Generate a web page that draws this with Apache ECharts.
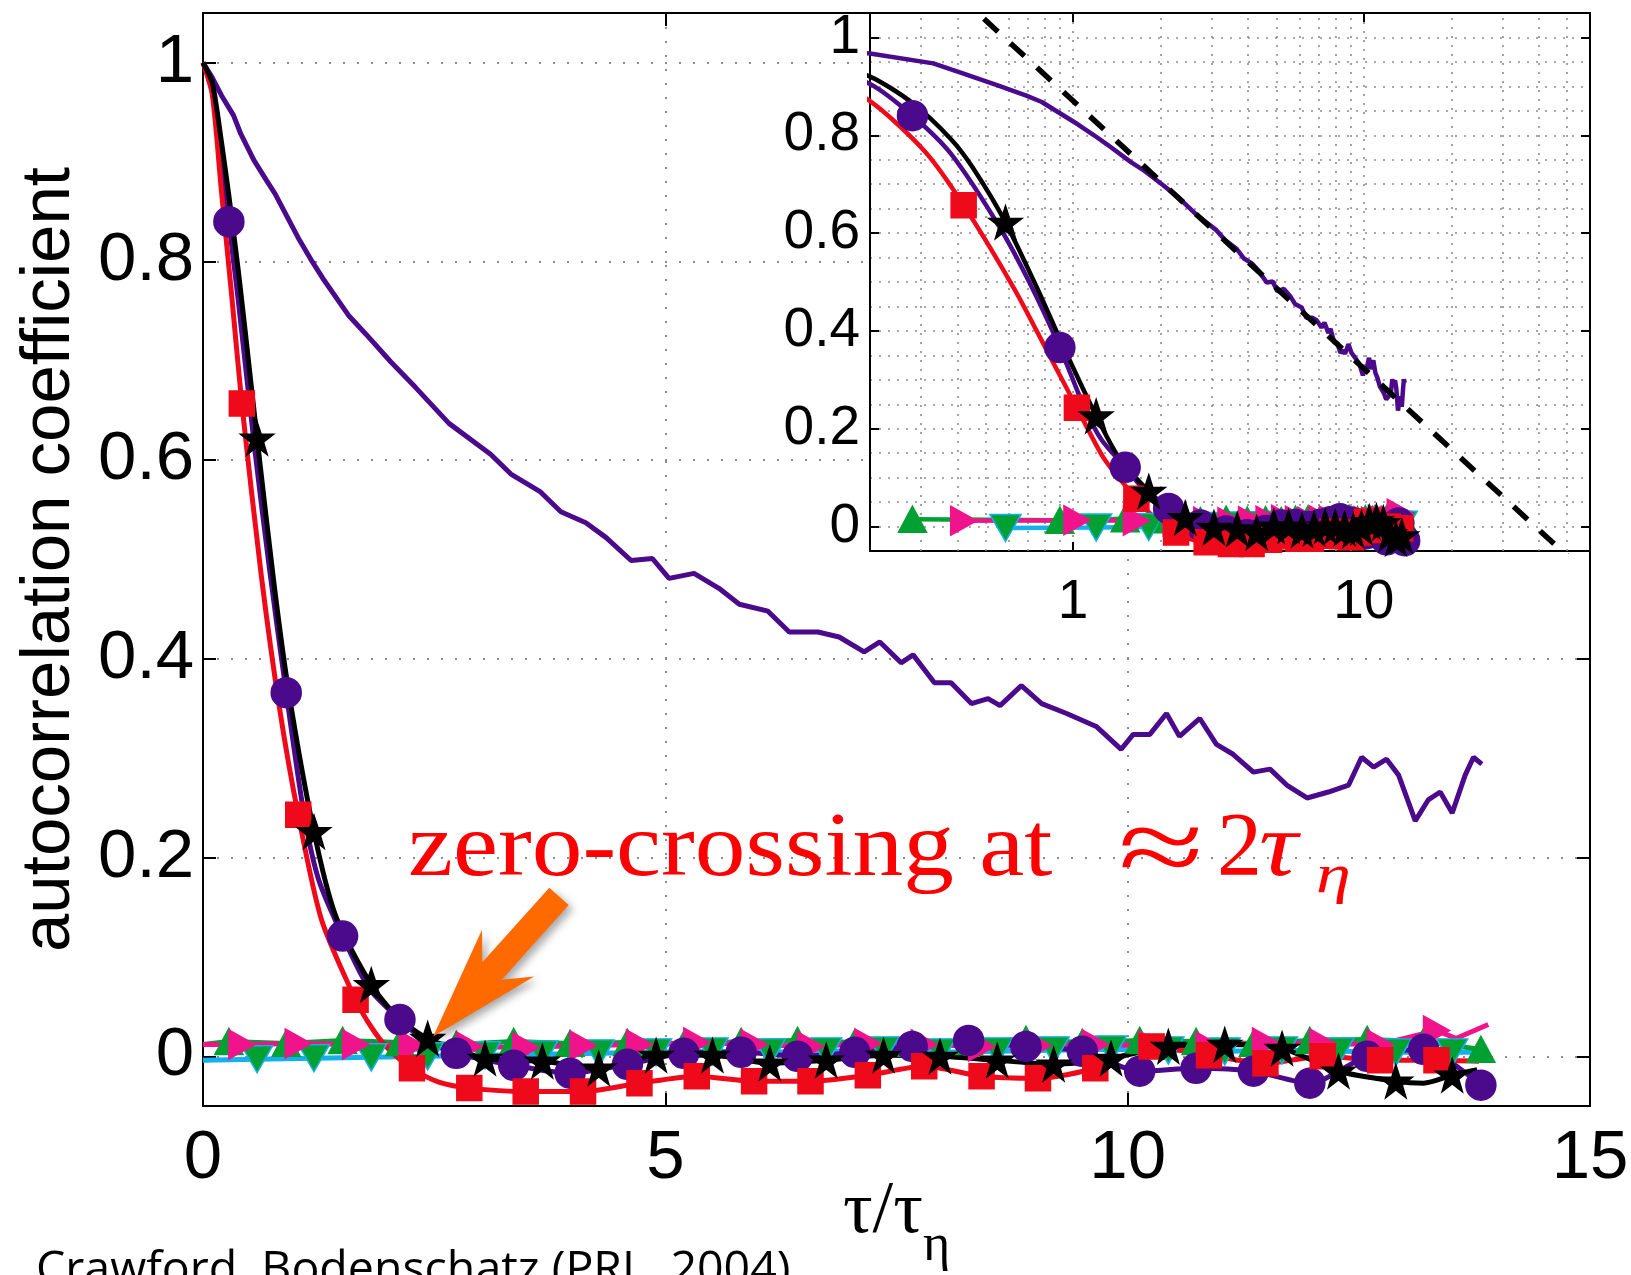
<!DOCTYPE html>
<html><head><meta charset="utf-8">
<script src="https://cdn.jsdelivr.net/npm/echarts@6/dist/echarts.min.js"></script>
<style>html,body{margin:0;padding:0;background:#fff}#c{width:1631px;height:1275px}</style>
</head><body><div id="c"></div>
<script>
// ---------------- data ----------------
// purple curve without markers
const slowTau = [0,0.1,0.2,0.33,0.41,0.55,0.69,0.78,1.04,1.18,1.31,1.58,1.76,2.03,2.30,2.66,3.11,3.33,3.65,3.87,4.14,4.36,4.63,4.86,5.04,5.31,5.58,5.80,6.11,6.34,6.65,6.88,7.15,7.32,7.55,7.68,7.91,8.09,8.31,8.49,8.62,8.85,9.07,9.34,9.66,9.93,10.06,10.24,10.42,10.56,10.78,10.96,11.14,11.36,11.54,11.72,11.94,12.17,12.39,12.53,12.66,12.80,12.93,13.11,13.25,13.38,13.51,13.65,13.74,13.83];
const slowVal = [1,0.985,0.967,0.947,0.928,0.902,0.881,0.868,0.822,0.800,0.781,0.745,0.727,0.699,0.673,0.637,0.606,0.586,0.568,0.548,0.537,0.522,0.499,0.501,0.481,0.486,0.471,0.455,0.448,0.427,0.427,0.422,0.407,0.417,0.396,0.404,0.376,0.376,0.355,0.360,0.353,0.373,0.355,0.345,0.332,0.309,0.324,0.324,0.345,0.322,0.340,0.314,0.304,0.286,0.289,0.273,0.260,0.266,0.273,0.301,0.291,0.299,0.283,0.237,0.258,0.266,0.245,0.283,0.301,0.294];

// marker positions (tau / tau_eta)
const markTauA = [0.28,0.90,1.51,2.13,2.74,3.36,3.97,4.59,5.20,5.82,6.43,7.05,7.67,8.28,8.90,9.51,10.13,10.74,11.36,11.97,12.59,13.20,13.82];
const markTauB = [0.42,1.03,1.65,2.26,2.88,3.49,4.11,4.72,5.34,5.96,6.57,7.19,7.80,8.42,9.03,9.65,10.26,10.88,11.49,12.11,12.73,13.34];
const markTauC = [0.585,1.20,1.82,2.43,3.05,3.67,4.28,4.90,5.51,6.13,6.74,7.36,7.97,8.59,9.20,9.82,10.44,11.05,11.67,12.28,12.90,13.51];

// purple with circles
const circVal = [0.840,0.366,0.121,0.037,0.003,-0.009,-0.017,-0.008,0.003,0.004,0.000,0.004,0.010,0.016,0.010,0.005,-0.015,-0.012,-0.015,-0.027,0.000,0.007,-0.029];
const circLineTau = [0,0.1,0.2,0.38,0.56,0.72,1.09,1.25,1.8,2.4];
const circLineVal = [1,0.975,0.905,0.762,0.611,0.490,0.245,0.178,0.068,0.016];

// red with squares
const sqVal = [0.657,0.243,0.057,-0.012,-0.032,-0.0355,-0.0355,-0.027,-0.020,-0.025,-0.025,-0.019,-0.010,-0.020,-0.022,-0.012,0.010,0.001,-0.007,0.000,-0.004,-0.004];
const redLineTau = [0,0.1,0.2,0.31,0.63,0.83,1.28,1.83,2.0,2.55,13.8];
const redLineVal = [1,0.968,0.870,0.766,0.484,0.349,0.138,0.028,0.008,-0.026,-0.005];

// black with stars
const starVal = [0.622,0.226,0.072,0.018,-0.002,-0.005,-0.012,0.001,0.001,-0.007,-0.004,0.001,0.000,-0.004,-0.008,-0.002,0.010,0.012,0.008,-0.015,-0.025,-0.019];
const blackLineTau = [0,0.1,0.2,0.28,0.38,0.45,0.77,0.93,1.44,2.1,13.2,13.78];
const blackLineVal = [1,0.98,0.920,0.866,0.792,0.735,0.474,0.365,0.140,0.040,-0.027,-0.0135];

// near-zero curves
const pinkVal = [0.012,0.013,0.012,0.011,0.010,0.009,0.011,0.012,0.014,0.012,0.010,0.013,0.012,0.010,0.011,0.012,0.011,0.010,0.014,0.013,0.012,0.026];
const pinkLineTau = [0,13.55,13.9];
const pinkLineVal = [0.012,0.018,0.032];
const gUpVal = [0.015,0.013,0.016,0.014,0.012,0.015,0.013,0.014,0.012,0.015,0.016,0.014,0.013,0.015,0.017,0.014,0.016,0.015,0.013,0.016,0.017,0.015,0.007];
const gUpLineTau = [0];
const gUpLineVal = [0.012];
const gDnVal = [-0.003,-0.002,-0.001,0.000,0.001,0.002,0.003,0.004,0.005,0.004,0.005,0.006,0.004,0.005,0.006,0.007,0.006,0.005,0.006,0.005,0.004,0.004];
const cyanLineTau = [0,13.9];
const cyanLineVal = [-0.004,0.004];

// dashed reference line of the inset
const dashTau = [0.4, 60];
const dashVal = [1.088, -0.103];

// inset minor grid positions
const insetMinorTau = [0.3,0.4,0.5,0.6,0.7,0.8,0.9,2,3,4,5,6,7,8,9,20,30,40,50];

// arrow (tail -> tip) in data units of the main plot
const arrowFrom = [3.85, 0.161];
const arrowTo = [2.49, 0.020];

// tick labels
const mainXTicks = [0, 5, 10, 15];
const insetXLabels = [1, 10];

// ---------------- chart ----------------
const PURPLE = '#4b0a8c', RED = '#ee0a1a', BLACK = '#000000', PINK = '#f0148c',
      GREEN = '#00a032', CYAN = '#14b0ec', ORANGE = '#ff6a00';
const STAR = 'path://M50,0 L61.8,34.5 L97.6,34.5 L68.6,55.9 L79.4,90.5 L50,69.1 L20.6,90.5 L31.4,55.9 L2.4,34.5 L38.2,34.5 Z';
const TRI_R = 'path://M0,0 L87,50 L0,100 Z';
const TRI_D = 'path://M0,0 L100,0 L50,87 Z';
const TRI_U = 'path://M50,0 L100,87 L0,87 Z';

function pts(t, v) { return t.map((x, i) => [x, v[i]]); }
function merged(t1, v1, t2, v2) { return pts(t1, v1).concat(pts(t2, v2)).sort((a, b) => a[0] - b[0]); }

const curves = [
  {line: merged(markTauC, gDnVal, cyanLineTau, cyanLineVal), color: CYAN, marks: pts(markTauC, gDnVal), symbol: TRI_D, symColor: GREEN, border: CYAN, size: [31, 27], smooth: false},
  {line: merged(markTauA, gUpVal, gUpLineTau, gUpLineVal), color: GREEN, marks: pts(markTauA, gUpVal), symbol: TRI_U, symColor: GREEN, border: GREEN, size: [28, 26], smooth: false},
  {line: merged(markTauB, pinkVal, pinkLineTau, pinkLineVal), color: PINK, marks: pts(markTauB, pinkVal), symbol: TRI_R, symColor: PINK, border: PINK, size: [26, 29], smooth: false},
  {line: pts(slowTau, slowVal), color: PURPLE, marks: null, smooth: false},
  {line: merged(markTauA, circVal, circLineTau, circLineVal), color: PURPLE, marks: pts(markTauA, circVal), symbol: 'circle', symColor: PURPLE, border: PURPLE, size: 30, smooth: 0.25},
  {line: merged(markTauB, sqVal, redLineTau, redLineVal), color: RED, marks: pts(markTauB, sqVal), symbol: 'rect', symColor: RED, border: RED, size: 25, smooth: 0.25},
  {line: merged(markTauC, starVal, blackLineTau, blackLineVal), color: BLACK, marks: pts(markTauC, starVal), symbol: STAR, symColor: BLACK, border: BLACK, size: 33, smooth: 0.25}
];

function panelSeries(xi, yi, inset) {
  const keep = inset ? (p => p[0] > 0) : (() => true);
  const z = inset ? 5 : 2;
  const out = [];
  curves.forEach(c => {
    out.push({
      type: 'line', xAxisIndex: xi, yAxisIndex: yi, data: c.line.filter(keep),
      showSymbol: false, symbol: 'none', smooth: c.smooth,
      lineStyle: {color: c.color, width: inset ? 4.5 : 5}, z: z, silent: true, clip: true
    });
    if (c.marks) {
      out.push({
        type: 'scatter', xAxisIndex: xi, yAxisIndex: yi, data: c.marks.filter(keep),
        symbol: c.symbol, symbolSize: c.size,
        itemStyle: {color: c.symColor, borderColor: c.border, borderWidth: 1.5, opacity: 1},
        z: z, silent: true, clip: true
      });
    }
  });
  return out;
}

const dotMain = {type: [2, 12], color: '#8c8c8c', width: 2};
const dotInset = {type: [2, 7], color: '#8c8c8c', width: 1.6};
const lineBlack = {color: '#000', width: 2};

const series = panelSeries(0, 0, false).concat(panelSeries(2, 2, true));

// inset dashed line
series.push({
  type: 'line', xAxisIndex: 2, yAxisIndex: 2, data: pts(dashTau, dashVal),
  showSymbol: false, symbol: 'none', lineStyle: {color: '#000', width: 5.5, type: [19, 17]}, z: 6, silent: true, clip: true
});
// inset minor grid lines
series.push({
  type: 'line', xAxisIndex: 2, yAxisIndex: 2, data: [[1, 0]], showSymbol: false, symbol: 'none',
  lineStyle: {width: 0}, z: 4, silent: true,
  markLine: {silent: true, symbol: 'none', label: {show: false}, animation: false,
    lineStyle: dotInset, data: insetMinorTau.map(v => ({xAxis: v}))}
});
// arrow
series.push({
  type: 'custom', xAxisIndex: 0, yAxisIndex: 0, z: 8, silent: true,
  data: [[arrowFrom[0], arrowFrom[1], arrowTo[0], arrowTo[1]]],
  encode: {x: [0, 2], y: [1, 3]},
  renderItem: function (params, api) {
    const p0 = api.coord([api.value(0), api.value(1)]);
    const p1 = api.coord([api.value(2), api.value(3)]);
    const dx = p0[0] - p1[0], dy = p0[1] - p1[1];
    const L = Math.hypot(dx, dy);
    const ux = dx / L, uy = dy / L, nx = -uy, ny = ux;
    const HL = 112, HW = 35, NL = 88, SW = 13;
    const P = (a, b) => [p1[0] + ux * a + nx * b, p1[1] + uy * a + ny * b];
    return {
      type: 'polygon',
      shape: {points: [P(0, 0), P(HL, HW), P(NL, SW), P(L, SW), P(L, -SW), P(NL, -SW), P(HL, -HW)]},
      style: {fill: ORANGE, shadowBlur: 8, shadowOffsetX: 4, shadowOffsetY: 4, shadowColor: 'rgba(0,0,0,0.35)'}
    };
  }
});

const labelFont = {fontFamily: 'Liberation Sans', color: '#000'};

const option = {
  animation: false,
  backgroundColor: '#fff',
  textStyle: {fontFamily: 'Liberation Sans'},
  grid: [
    {left: 203, top: 13, width: 1387, height: 1093, outerBoundsMode: 'none', containLabel: false},
    {left: 870, top: 13, width: 720, height: 538, outerBoundsMode: 'none', containLabel: false,
      show: true, backgroundColor: '#fff', borderWidth: 0, z: 3}
  ],
  xAxis: [
    {gridIndex: 0, type: 'value', min: mainXTicks[0], max: mainXTicks[mainXTicks.length - 1], interval: 5, position: 'bottom',
      axisLine: {onZero: false, lineStyle: lineBlack}, axisTick: {inside: true, length: 13, lineStyle: lineBlack},
      axisLabel: Object.assign({fontSize: 69, margin: 18}, labelFont),
      splitLine: {show: true, lineStyle: dotMain},
      name: '{a|τ/τ}{b|η}', nameLocation: 'middle', nameGap: 70, nameMoveOverlap: false,
      nameTextStyle: {rich: {
        a: {fontFamily: 'Liberation Serif', fontSize: 74, lineHeight: 74, color: '#000', verticalAlign: 'top'},
        b: {fontFamily: 'Liberation Serif', fontSize: 52, lineHeight: 52, color: '#000', verticalAlign: 'top', padding: [44, 0, 0, 0]}
      }}, z: 0},
    {gridIndex: 0, type: 'value', min: 0, max: 15, interval: 5, position: 'top',
      axisLine: {onZero: false, lineStyle: lineBlack}, axisTick: {inside: true, length: 13, lineStyle: lineBlack},
      axisLabel: {show: false}, splitLine: {show: false}, z: 0},
    {gridIndex: 1, type: 'log', logBase: 10, min: 0.2, max: 60, position: 'bottom',
      axisLine: {onZero: false, lineStyle: lineBlack}, axisTick: {inside: true, length: 9, lineStyle: lineBlack},
      axisLabel: Object.assign({fontSize: 55, margin: 24, formatter: function (v) {
        for (const t of insetXLabels) { if (Math.abs(v - t) < 1e-6 * t) return String(t); }
        return '';
      }}, labelFont),
      splitLine: {show: true, lineStyle: dotInset}, minorTick: {show: false}, minorSplitLine: {show: false}, z: 4},
    {gridIndex: 1, type: 'log', logBase: 10, min: 0.2, max: 60, position: 'top',
      axisLine: {onZero: false, lineStyle: lineBlack}, axisTick: {inside: true, length: 9, lineStyle: lineBlack},
      axisLabel: {show: false}, splitLine: {show: false}, z: 4}
  ],
  yAxis: [
    {gridIndex: 0, type: 'value', min: -0.05, max: 1.05, position: 'left',
      axisLine: {onZero: false, lineStyle: lineBlack}, axisTick: {inside: true, length: 13, lineStyle: lineBlack},
      axisLabel: Object.assign({fontSize: 69, margin: 9, showMinLabel: false, showMaxLabel: false}, labelFont),
      splitLine: {show: true, lineStyle: dotMain},
      name: 'autocorrelation coefficient', nameLocation: 'middle', nameRotate: 90, nameGap: 119, nameMoveOverlap: false,
      nameTextStyle: {fontSize: 69, fontFamily: 'Liberation Sans', color: '#000'}, z: 0},
    {gridIndex: 0, type: 'value', min: -0.05, max: 1.05, position: 'right',
      axisLine: {onZero: false, lineStyle: lineBlack}, axisTick: {inside: true, length: 13, lineStyle: lineBlack},
      axisLabel: {show: false}, splitLine: {show: false}, z: 0},
    {gridIndex: 1, type: 'value', min: -0.05, max: 1.05, position: 'left',
      axisLine: {onZero: false, lineStyle: lineBlack}, axisTick: {inside: true, length: 9, lineStyle: lineBlack},
      axisLabel: Object.assign({fontSize: 55, margin: 10, showMinLabel: false, showMaxLabel: false}, labelFont),
      splitLine: {show: true, lineStyle: dotInset},
      minorTick: {show: false, splitNumber: 4}, minorSplitLine: {show: true, lineStyle: dotInset}, z: 4},
    {gridIndex: 1, type: 'value', min: -0.05, max: 1.05, position: 'right',
      axisLine: {onZero: false, lineStyle: lineBlack}, axisTick: {inside: true, length: 9, lineStyle: lineBlack},
      axisLabel: {show: false}, splitLine: {show: false}, z: 4}
  ],
  graphic: [
    {type: 'text', x: 408, y: 851, scaleX: 1.126, z: 20, silent: true,
      style: {text: 'zero-crossing at', fontFamily: 'Liberation Serif', fontSize: 90, fill: '#ff0000', verticalAlign: 'middle'}},
    {type: 'text', x: 1118, y: 855, scaleX: 1.45, z: 20, silent: true,
      style: {text: '≈', fontFamily: 'Liberation Serif', fontSize: 108, fill: '#ff0000', verticalAlign: 'middle'}},
    {type: 'text', x: 1217, y: 851, z: 20, silent: true,
      style: {text: '2', fontFamily: 'Liberation Serif', fontSize: 90, fill: '#ff0000', verticalAlign: 'middle'}},
    {type: 'text', x: 1259, y: 851, scaleX: 1.2, z: 20, silent: true,
      style: {text: 'τ', fontFamily: 'Liberation Serif', fontStyle: 'italic', fontSize: 90, fill: '#ff0000', verticalAlign: 'middle'}},
    {type: 'text', x: 1316, y: 878, scaleX: 1.3, z: 20, silent: true,
      style: {text: 'η', fontFamily: 'Liberation Serif', fontStyle: 'italic', fontSize: 54, fill: '#ff0000', verticalAlign: 'middle'}},
    {type: 'text', x: 36, y: 1271, z: 20, silent: true,
      style: {text: 'Crawford, Bodenschatz (PRL, 2004)', fontFamily: 'Open Sans', fontSize: 46.5, fill: '#000', verticalAlign: 'middle'}}
  ],
  series: series
};

const chart = echarts.init(document.getElementById('c'), null, {renderer: 'canvas'});
chart.setOption(option);
</script></body></html>
